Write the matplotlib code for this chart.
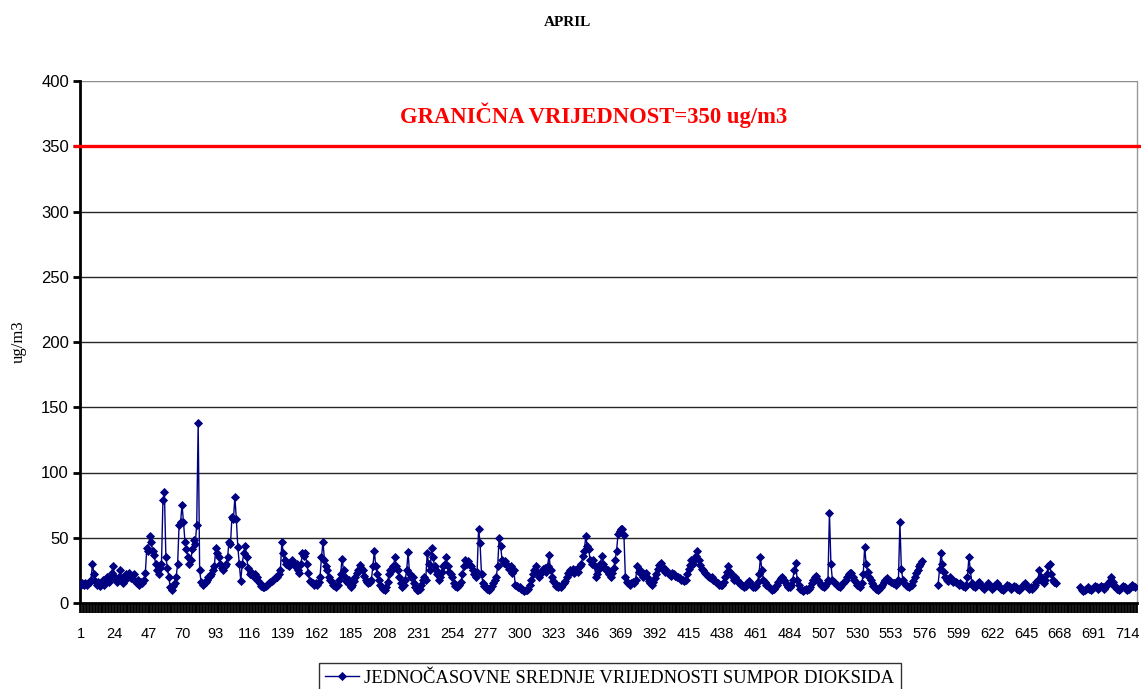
import numpy as np
import matplotlib
matplotlib.use('Agg')
import matplotlib.pyplot as plt

N = None  # missing hour

# hourly SO2 means for April, one list per day (24 values)
day01 = [14, 15, 14, 15, 14, 15, 16, 18, 30, 22, 17, 14, 16, 13, 15, 18, 14, 17, 20, 16, 19, 23, 28, 21]
day02 = [18, 16, 20, 25, 19, 15, 18, 22, 20, 23, 19, 21, 22, 17, 15, 18, 14, 16, 15, 18, 23, 42, 40, 51]
day03 = [47, 40, 37, 30, 25, 22, 27, 30, 79, 85, 35, 27, 20, 12, 10, 13, 15, 20, 30, 60, 62, 75, 62, 47]
day04 = [41, 35, 30, 33, 41, 48, 45, 60, 138, 25, 16, 14, 15, 16, 18, 20, 21, 22, 25, 28, 42, 38, 35, 30]
day05 = [27, 25, 28, 30, 35, 47, 45, 66, 64, 81, 64, 43, 30, 17, 30, 38, 44, 35, 27, 22, 24, 22, 20, 22]
day06 = [20, 17, 15, 13, 12, 12, 13, 14, 15, 16, 17, 18, 19, 20, 20, 22, 25, 47, 38, 33, 30, 29, 28, 31]
day07 = [33, 30, 28, 30, 25, 23, 30, 38, 36, 38, 30, 23, 17, 16, 15, 14, 15, 14, 16, 20, 35, 47, 33, 28]
day08 = [25, 20, 18, 16, 14, 13, 12, 14, 18, 22, 34, 25, 20, 17, 15, 18, 12, 14, 17, 20, 23, 25, 29, 27]
day09 = [25, 21, 18, 16, 15, 16, 18, 28, 40, 28, 22, 18, 14, 12, 11, 10, 12, 16, 22, 25, 25, 28, 35, 28]
day10 = [25, 20, 15, 12, 14, 18, 25, 39, 22, 20, 20, 15, 12, 10, 10, 11, 14, 18, 20, 18, 38, 30, 25, 42]
day11 = [35, 28, 25, 22, 18, 20, 24, 28, 30, 35, 28, 24, 22, 20, 15, 13, 12, 13, 14, 16, 22, 28, 33, 30]
day12 = [32, 29, 28, 25, 22, 20, 24, 57, 46, 22, 15, 13, 12, 11, 10, 11, 13, 15, 18, 20, 28, 50, 44, 33]
day13 = [31, 32, 30, 28, 26, 28, 23, 25, 14, 13, 12, 12, 11, 10, 9, 10, 10, 11, 14, 18, 22, 25, 28, 24]
day14 = [20, 22, 24, 26, 27, 24, 28, 37, 25, 20, 17, 15, 13, 12, 13, 12, 14, 15, 17, 20, 23, 25, 24, 26]
day15 = [23, 25, 26, 24, 28, 30, 36, 40, 51, 44, 41, 33, 30, 33, 28, 20, 22, 26, 30, 36, 30, 27, 25, 25]
day16 = [22, 20, 23, 27, 33, 40, 53, 55, 57, 57, 52, 20, 16, 15, 14, 15, 16, 15, 18, 28, 24, 25, 22, 20]
day17 = [22, 23, 20, 17, 15, 14, 16, 19, 22, 26, 29, 31, 28, 25, 24, 25, 23, 22, 21, 23, 22, 21, 20, 20]
day18 = [19, 18, 18, 17, 18, 22, 26, 29, 33, 30, 33, 36, 40, 33, 29, 26, 25, 23, 22, 21, 20, 19, 20, 18]
day19 = [17, 16, 15, 14, 14, 14, 16, 20, 24, 28, 24, 22, 20, 18, 20, 18, 16, 15, 14, 13, 12, 13, 15, 17]
day20 = [15, 13, 12, 12, 13, 16, 22, 35, 25, 18, 16, 14, 13, 12, 11, 10, 11, 12, 14, 16, 18, 19, 20, 18]
day21 = [16, 14, 12, 12, 14, 18, 25, 31, 18, 14, 11, 10, 9, 10, 11, 10, 11, 12, 15, 18, 20, 21, 18, 16]
day22 = [14, 13, 12, 13, 15, 18, 69, 30, 18, 16, 15, 14, 13, 12, 14, 15, 16, 18, 20, 22, 23, 23, 20, 18]
day23 = [16, 14, 13, 12, 15, 22, 43, 30, 24, 20, 18, 15, 13, 12, 11, 10, 11, 12, 14, 16, 18, 19, 18, 17]
day24 = [16, 15, 15, 14, 15, 18, 62, 26, 18, 15, 14, 13, 12, 13, 14, 17, 20, 23, 25, 28, 30, 32, N, N]
day25 = [N, N, N, N, N, N, N, N, 14, 26, 38, 30, 24, 20, 18, 17, 20, 18, 16, 17, 16, 15, 14, 15]
day26 = [14, 13, 12, 14, 20, 35, 25, 15, 13, 12, 13, 15, 16, 14, 12, 11, 12, 13, 15, 14, 12, 11, 12, 14]
day27 = [15, 13, 12, 11, 10, 11, 12, 14, 13, 12, 11, 12, 13, 12, 11, 10, 11, 12, 14, 15, 13, 12, 11, 12]
day28 = [11, 12, 14, 16, 18, 25, 20, 17, 15, 18, 22, 28, 30, 22, 18, 16, 15, N, N, N, N, N, N, N]
day29 = [N, N, N, N, N, N, N, N, N, 12, 10, 9, 10, 11, 12, 11, 10, 11, 12, 13, 12, 11, 12, 13]
day30 = [12, 11, 12, 14, 15, 17, 20, 16, 13, 12, 11, 10, 11, 12, 13, 12, 11, 10, 11, 12, 14, 13, 12, N]

days = [day01, day02, day03, day04, day05, day06, day07, day08, day09, day10,
        day11, day12, day13, day14, day15, day16, day17, day18, day19, day20,
        day21, day22, day23, day24, day25, day26, day27, day28, day29, day30]
so2 = np.array(sum(days, []), dtype=float)
hours = np.arange(1, len(so2) + 1)

limit_value = 350
yticks = [0, 50, 100, 150, 200, 250, 300, 350, 400]
xtick_labels = list(range(1, 721, 23))

plt.rcParams['font.family'] = ['Liberation Sans', 'DejaVu Sans']

fig = plt.figure(figsize=(11.41, 6.89), dpi=100, facecolor='white')
ax = fig.add_axes([80 / 1141, 86 / 689, 1057 / 1141, 522 / 689])

# gridlines
for v in yticks[1:]:
    ax.axhline(v, color='0.15' if v < 400 else '0.55', lw=1.0, zorder=1)

# limit line + label
ax.plot([-0.005, 1.004], [limit_value, limit_value], color='#ff0000', lw=2.4,
        transform=ax.get_yaxis_transform(), clip_on=False, zorder=3)
ax.text(0.486, 374, 'GRANIČNA VRIJEDNOST=350 ug/m3', color='#ff0000',
        fontsize=16.3, fontweight='bold', family='Liberation Serif',
        ha='center', va='center', transform=ax.get_yaxis_transform())

# data series
ax.plot(hours, so2, color='#000080', lw=1.0, marker='D', markersize=4.2,
        markeredgewidth=0.6, zorder=4,
        label='JEDNOČASOVNE SREDNJE VRIJEDNOSTI SUMPOR DIOKSIDA')

ax.set_xlim(0.5, 720.5)
ax.set_ylim(0, 400)
ax.set_yticks(yticks)
ax.set_xticks(xtick_labels)
ax.set_xticklabels([str(v) for v in xtick_labels])
ax.set_xticks(np.arange(0.5, 721, 1), minor=True)

ax.tick_params(axis='y', direction='out', length=5, width=2, labelsize=12, pad=3)
ax.tick_params(axis='x', which='major', length=0, labelsize=10.5, pad=17)
ax.tick_params(axis='x', which='minor', direction='out', length=7, width=1.3, color='black')

ax.spines['left'].set_linewidth(2)
ax.spines['bottom'].set_linewidth(2)
ax.spines['top'].set_visible(False)
ax.spines['right'].set_color('0.6')
ax.spines['right'].set_linewidth(1)

ax.set_ylabel('ug/m3', family='Liberation Serif', fontsize=12, labelpad=10)
fig.text(567 / 1141, 1 - 22 / 689, 'APRIL', family='Liberation Serif',
         fontweight='bold', fontsize=11, ha='center', va='center')

leg = fig.legend(loc='upper center', bbox_to_anchor=(610 / 1141, 1 - 654 / 689),
                 prop={'family': 'Liberation Serif', 'size': 13.4},
                 frameon=True, fancybox=False, handlelength=1.8,
                 borderpad=0.35, handletextpad=0.3)
leg.get_frame().set_edgecolor('black')
leg.get_frame().set_linewidth(1)

fig.savefig('out.png', dpi=100, facecolor='white')
